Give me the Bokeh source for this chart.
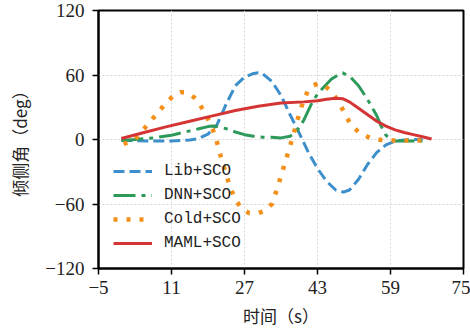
from bokeh.plotting import figure
from bokeh.models import Range1d, FixedTicker, Legend, LegendItem
from bokeh.embed import file_html
from bokeh.resources import INLINE

# ---- data ----
lib_x = [0, 3, 7, 11, 15, 17, 19, 21, 23, 25, 27, 29, 30, 31, 33, 35, 37, 39, 41, 43, 45, 47, 48.7, 50, 52, 54, 56, 58, 60, 62, 64, 66]
lib_y = [-1, -1, -1.5, -1.5, -0.5, 1, 5, 14, 33, 50, 58, 61.5, 62, 61, 54, 41, 23, 6, -12, -27, -39, -47, -49, -47, -37, -23, -12, -5, -1.5, -0.5, 0, 0]

dnn_x = [0, 3, 7, 11, 15, 17, 19, 20, 21, 23, 25, 27, 29, 31, 33, 35, 37, 38.5, 40, 41, 42, 43, 44, 46, 48, 48.5, 50, 52, 54, 56, 57, 58, 59, 60, 62, 64, 66]
dnn_y = [-1, 0, 1.5, 4, 8, 10, 12, 12.5, 12, 10, 7, 4.5, 3, 2, 2, 1.5, 3, 8, 18, 27, 36, 42, 47, 56, 61.5, 62, 59, 50, 37, 22, 12, 4, 0, -1.5, -1.5, -1.5, -1.5]

cold_x = [0.5, 2, 3, 4, 5, 6, 7, 8, 9, 10, 11, 12, 13, 14, 15, 16, 17, 18, 19, 20, 21, 22, 23, 24, 25, 26, 27, 28, 29, 30, 31, 32, 33, 34, 35, 36, 37, 38, 39, 40, 41, 42, 43, 44, 45, 46, 47, 48, 49, 50, 51, 52, 53, 54, 55, 57, 60, 63, 66]
cold_y = [-4, -2, 0, 5, 10, 15, 20, 25, 30, 35, 39, 42.5, 44, 44, 42, 39, 34, 27, 19, 10, -3, -19, -33, -46, -56, -62, -66, -68.5, -69, -68.5, -67, -64, -60, -48, -34, -20, -6, 9, 24, 37, 46, 50, 52, 51, 48.5, 45, 39, 32, 24, 16, 11, 7, 4.5, 2.5, 1, -0.5, -1, -1, -1]

maml_x = [0, 5, 10, 15, 20, 25, 30, 35, 40, 43, 45, 47, 48.5, 50, 52, 54, 56, 58, 60, 62, 64, 66, 68]
maml_y = [1, 6.5, 12, 17, 22, 27, 31, 34, 35, 36, 37.5, 38.3, 38, 35, 29, 23, 17, 12.5, 9, 6.5, 4.5, 2.5, 0.5]

x_ticks = [-5, 11, 27, 43, 59, 75]
y_ticks = [-120, -60, 0, 60, 120]
series_names = ["Lib+SCO", "DNN+SCO", "Cold+SCO", "MAML+SCO"]
x_label = "时间（s）"
y_label = "倾侧角（deg）"

# ---- figure ----
p = figure(frame_width=365, frame_height=258,
           min_border_left=98, min_border_right=7, min_border_top=10, min_border_bottom=64,
           output_backend="svg", toolbar_location=None,
           x_range=Range1d(-5, 75), y_range=Range1d(-120, 120))
p.background_fill_color = "white"
p.border_fill_color = "white"
p.outline_line_color = "black"
p.outline_line_width = 2
p.outline_line_alpha = 1

p.xaxis.ticker = FixedTicker(ticks=x_ticks)
p.yaxis.ticker = FixedTicker(ticks=y_ticks)
p.xgrid.ticker = FixedTicker(ticks=x_ticks)
p.ygrid.ticker = FixedTicker(ticks=y_ticks)

axes = list(p.xaxis) + list(p.yaxis)
for ax in axes:
    ax.axis_line_color = "black"
    ax.axis_line_width = 2
    ax.major_tick_line_color = "black"
    ax.major_tick_line_width = 1.5
    ax.major_tick_out = 6
    ax.major_tick_in = 0
    ax.minor_tick_line_color = None
    ax.major_label_text_font = "Liberation Serif"
    ax.major_label_text_font_size = "19px"
    ax.major_label_text_font_style = "normal"
    ax.major_label_text_color = "#222222"
    ax.axis_label_text_font = "Noto Sans CJK SC"
    ax.axis_label_text_font_size = "17px"
    ax.axis_label_text_font_style = "normal"
    ax.axis_label_text_color = "#222222"

p.xaxis.major_label_standoff = 6
p.yaxis.major_label_standoff = 8
p.xaxis.axis_label = x_label
p.yaxis.axis_label = y_label
p.xaxis.axis_label_standoff = 6
p.yaxis.axis_label_standoff = 10

for g in (p.xgrid, p.ygrid):
    g.grid_line_color = "#d8d8d8"
    g.grid_line_dash = "2 2"
    g.grid_line_width = 1

r1 = p.line(lib_x, lib_y, line_color="#3c8fcb", line_width=3, line_dash="11 5")
r2 = p.line(dnn_x, dnn_y, line_color="#2d9a5a", line_width=3, line_dash="22 6 4 6")
r3 = p.line(cold_x, cold_y, line_color="#f39019", line_width=4.5, line_dash="4 9")
r4 = p.line(maml_x, maml_y, line_color="#d43434", line_width=3)

legend = Legend(items=[LegendItem(label=n, renderers=[r]) for n, r in zip(series_names, [r1, r2, r3, r4])],
                location=(15, 13))
legend.padding = 0
legend.margin = 0
legend.spacing = 0
legend.glyph_width = 39
legend.glyph_height = 24
legend.label_height = 24
legend.label_standoff = 12
legend.label_text_font = "Liberation Mono"
legend.label_text_font_size = "16px"
legend.label_text_color = "#222222"
legend.border_line_color = None
legend.background_fill_alpha = 0
p.add_layout(legend, "center")

open("out.html", "w").write(file_html(p, INLINE))
